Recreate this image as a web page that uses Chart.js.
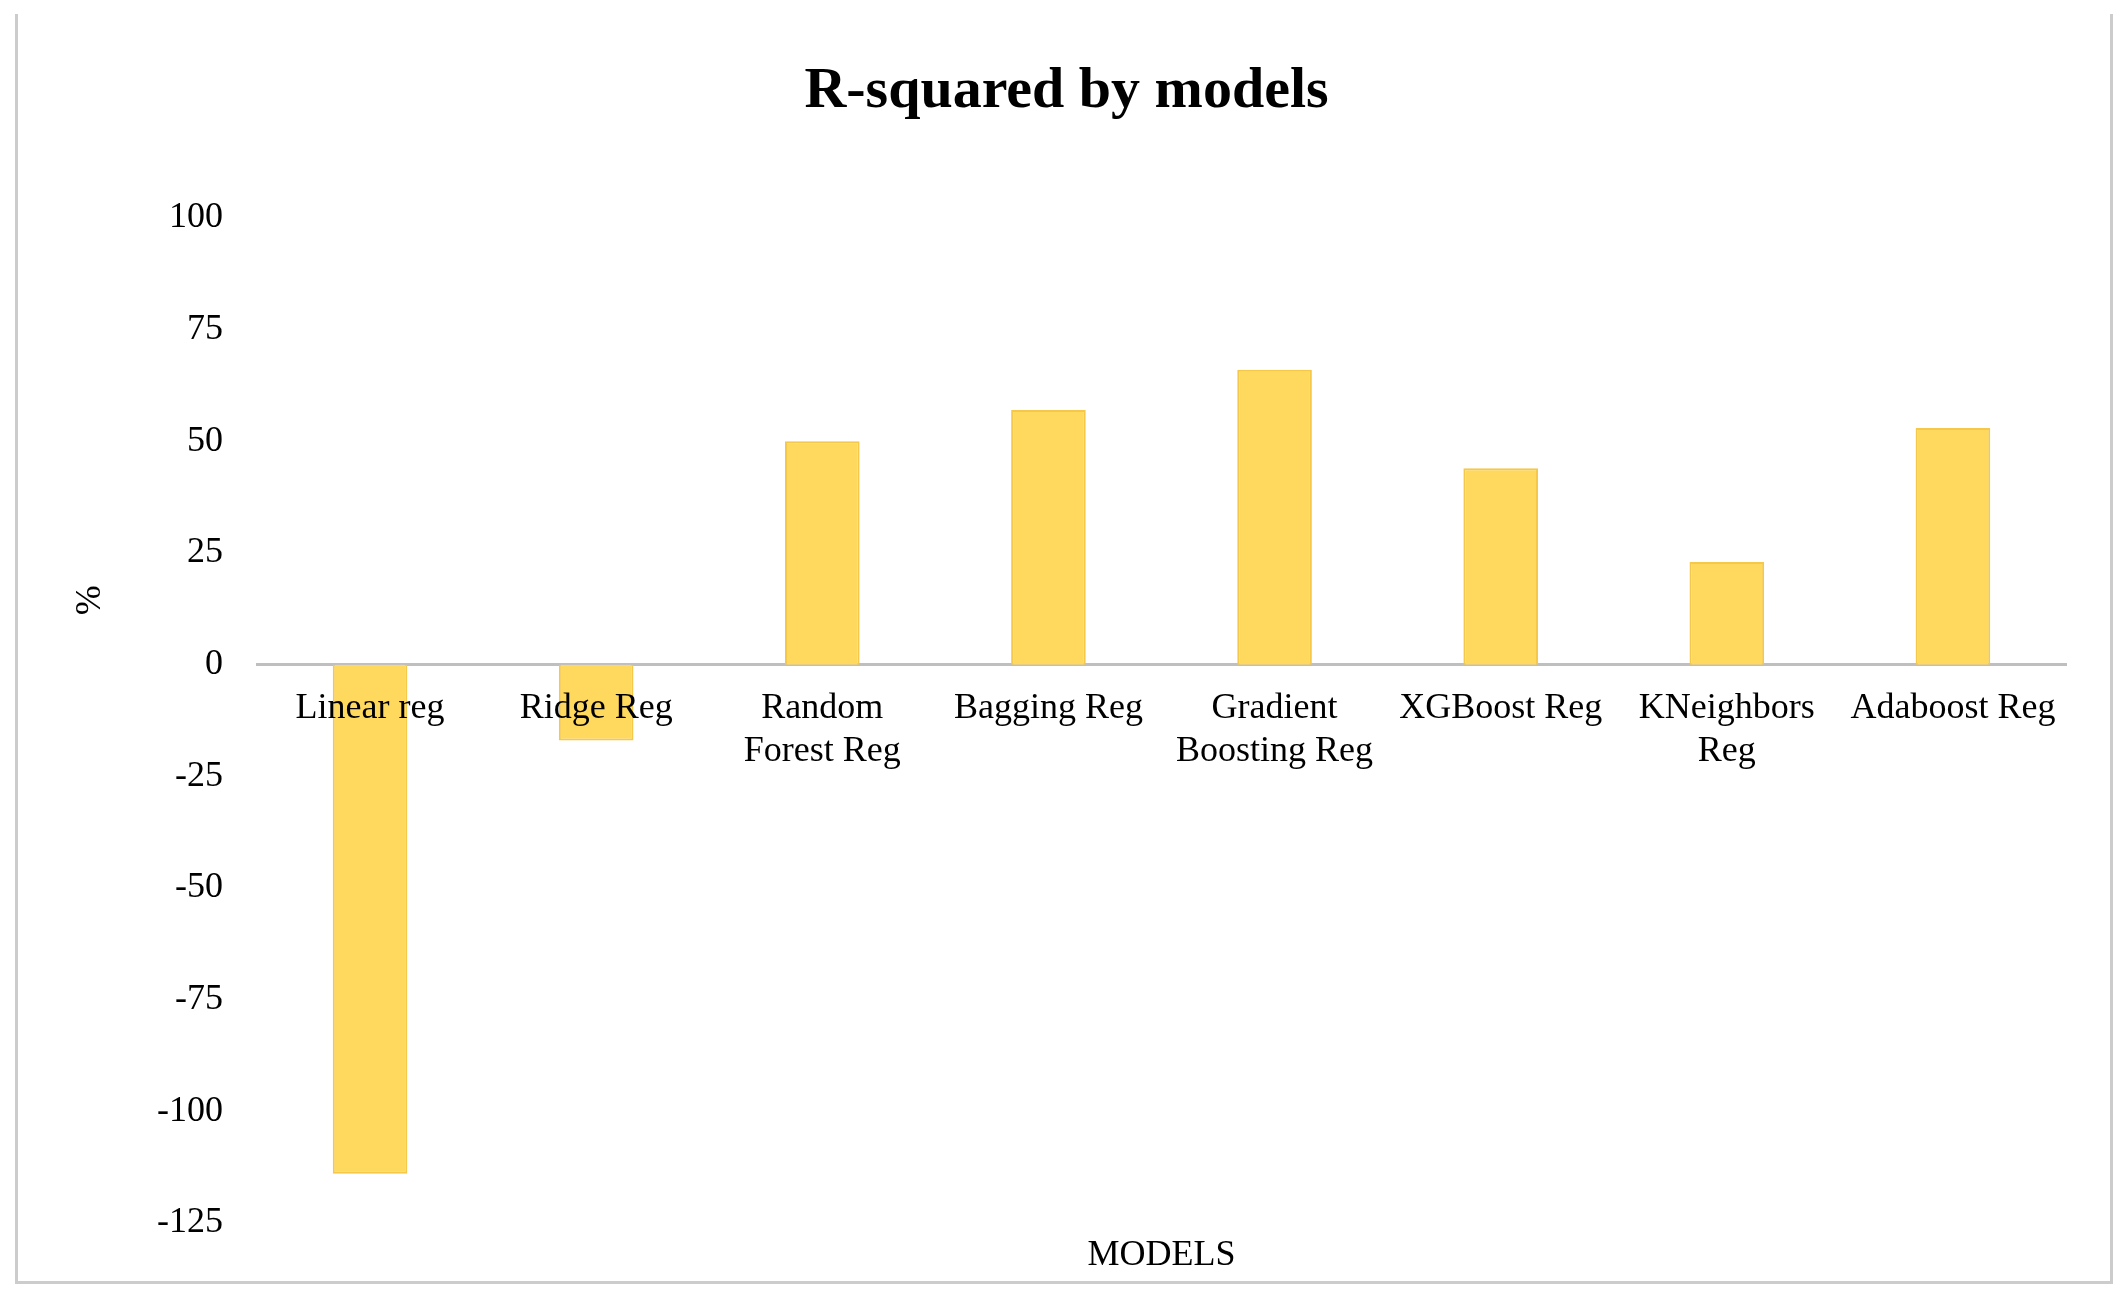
<!DOCTYPE html>
<html lang="en">
<head>
  <meta charset="UTF-8">
  <title>R-squared by models</title>
  <script src="https://cdn.jsdelivr.net/npm/chart.js"></script>
  <style>
    * { margin: 0; padding: 0; }
    body { background: white; width: 2121px; height: 1297px; overflow: hidden; position: relative; }
    #frame {
      position: absolute;
      left: 15px; top: 14px;
      width: 2092px; height: 1267px;
      border: 3px solid #cccccc;
      border-top: none;
      pointer-events: none;
    }
    canvas { position: absolute; left: 0; top: 0; }
  </style>
</head>
<body>
  <canvas id="chart" width="2121" height="1297"></canvas>
  <div id="frame"></div>
  <script>
    const models = [
      'Linear reg',
      'Ridge Reg',
      ['Random', 'Forest Reg'],
      'Bagging Reg',
      ['Gradient', 'Boosting Reg'],
      'XGBoost Reg',
      ['KNeighbors', 'Reg'],
      'Adaboost Reg'
    ];
    const rSquared = [-114, -17, 50, 57, 66, 44, 23, 53];
    const yMin = -125;
    const yMax = 100;
    const yStep = 25;

    const serif = "'Liberation Serif', 'Times New Roman', serif";

    // title and axis titles sit where the original placed them
    const chartTexts = {
      id: 'chartTexts',
      afterDraw(chart) {
        const { ctx, chartArea, scales, width } = chart;
        ctx.save();
        ctx.fillStyle = '#000';
        ctx.textAlign = 'center';
        ctx.textBaseline = 'middle';
        ctx.font = 'bold 58px ' + serif;
        ctx.fillText('R-squared by models', width / 2 + 6, 92);
        ctx.font = '36px ' + serif;
        ctx.fillText('MODELS', (chartArea.left + chartArea.right) / 2, chartArea.bottom + 33);
        ctx.translate(91, scales.y.getPixelForValue(14.4));
        ctx.rotate(-Math.PI / 2);
        ctx.fillText('%', 0, 0);
        ctx.restore();
      }
    };

    new Chart(document.getElementById('chart'), {
      type: 'bar',
      data: {
        labels: models,
        datasets: [{
          label: 'R-squared',
          data: rSquared,
          backgroundColor: '#FFD85E',
          borderColor: '#F5C84A',
          borderWidth: 2,
          barPercentage: 0.33,
          categoryPercentage: 1
        }]
      },
      options: {
        responsive: false,
        animation: false,
        devicePixelRatio: 1,
        layout: { padding: { top: 218, right: 55, bottom: 74, left: 0 } },
        plugins: {
          legend: { display: false },
          tooltip: { enabled: false },
          title: { display: false }
        },
        scales: {
          x: {
            position: { y: 0 },
            grid: { display: false, drawTicks: false },
            border: { display: true, color: '#bfbfbf', width: 3 },
            ticks: {
              z: 1, // labels go over the bars, as in the original
              color: '#000',
              padding: 22,
              maxRotation: 0,
              autoSkip: false,
              font: { family: serif, size: 36, lineHeight: 1.2 }
            }
          },
          y: {
            min: yMin,
            max: yMax,
            afterFit(scale) { scale.width = 257; },
            grid: { display: false, drawTicks: false },
            border: { display: false },
            ticks: {
              stepSize: yStep,
              color: '#000',
              padding: 34,
              font: { family: serif, size: 36 }
            }
          }
        }
      },
      plugins: [chartTexts]
    });
  </script>
</body>
</html>
